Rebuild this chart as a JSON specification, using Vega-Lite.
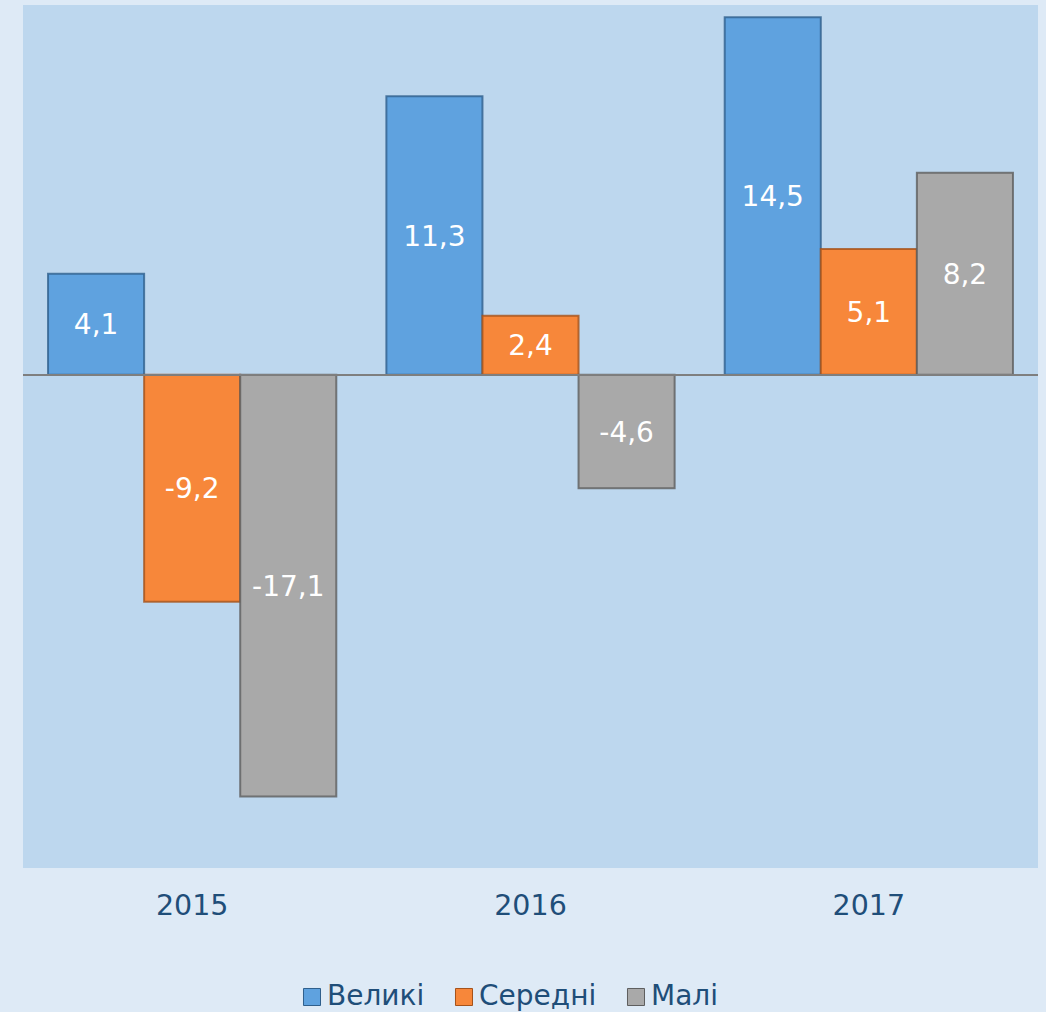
{
  "$schema": "https://vega.github.io/schema/vega-lite/v6.json",
  "width": 1015,
  "height": 863,
  "autosize": {"type": "none"},
  "padding": {"left": 23, "top": 5, "right": 8, "bottom": 144},
  "background": "#deeaf6",
  "config": {
    "view": {"fill": "#bdd7ee", "stroke": null},
    "font": "DejaVu Sans",
    "locale": {"number": {"decimal": ",", "thousands": " ", "grouping": [3], "currency": ["", ""], "minus": "-"}}
  },
  "data": {
    "values": [
      {"year": "2015", "series": "Великі", "value": 4.1},
      {"year": "2015", "series": "Середні", "value": -9.2},
      {"year": "2015", "series": "Малі", "value": -17.1},
      {"year": "2016", "series": "Великі", "value": 11.3},
      {"year": "2016", "series": "Середні", "value": 2.4},
      {"year": "2016", "series": "Малі", "value": -4.6},
      {"year": "2017", "series": "Великі", "value": 14.5},
      {"year": "2017", "series": "Середні", "value": 5.1},
      {"year": "2017", "series": "Малі", "value": 8.2}
    ]
  },
  "encoding": {
    "x": {
      "field": "year", "type": "nominal",
      "scale": {"paddingInner": 0.148, "paddingOuter": 0.074},
      "axis": {"title": null, "domain": false, "ticks": false, "labelAngle": 0, "labelFontSize": 28.5, "labelColor": "#1f4e79", "labelPadding": 23, "labelFont": "DejaVu Sans"}
    },
    "xOffset": {"field": "series", "type": "nominal", "sort": ["Великі", "Середні", "Малі"], "scale": {"paddingInner": 0, "paddingOuter": 0}}
  },
  "layer": [
    {
      "mark": {"type": "bar", "strokeWidth": 2, "strokeOpacity": 0.8},
      "encoding": {
        "y": {"field": "value", "type": "quantitative", "scale": {"domain": [-20, 15], "nice": false, "zero": true}, "axis": null},
        "y2": {"datum": 0},
        "color": {
          "field": "series", "type": "nominal",
          "sort": ["Великі", "Середні", "Малі"],
          "scale": {"domain": ["Великі", "Середні", "Малі"], "range": ["#5fa2df", "#f7873a", "#a9a9a9"]},
          "legend": {
            "title": null, "orient": "none", "direction": "horizontal",
            "legendX": 275, "legendY": 978,
            "symbolType": "square", "symbolSize": 290, "symbolStrokeWidth": 1, "symbolStrokeColor": "#444444",
            "labelFontSize": 28, "labelColor": "#1f4e79", "labelFont": "DejaVu Sans",
            "columnPadding": 25, "labelOffset": 1
          }
        },
        "stroke": {
          "field": "series", "type": "nominal",
          "scale": {"domain": ["Великі", "Середні", "Малі"], "range": ["#2f5f8c", "#a5521a", "#5e5e5e"]},
          "legend": null
        }
      }
    },
    {
      "mark": {"type": "rule", "color": "#7f7f7f", "strokeWidth": 1.5},
      "encoding": {"y": {"datum": 0, "type": "quantitative", "scale": {"domain": [-20, 15], "nice": false}}, "x": null, "xOffset": null}
    },
    {
      "transform": [{"calculate": "datum.value / 2", "as": "mid"}],
      "mark": {"type": "text", "color": "white", "fontSize": 28, "font": "DejaVu Sans", "baseline": "middle", "align": "center", "dy": 2},
      "encoding": {
        "y": {"field": "mid", "type": "quantitative"},
        "text": {"field": "value", "type": "quantitative", "format": ".1f"}
      }
    }
  ]
}
